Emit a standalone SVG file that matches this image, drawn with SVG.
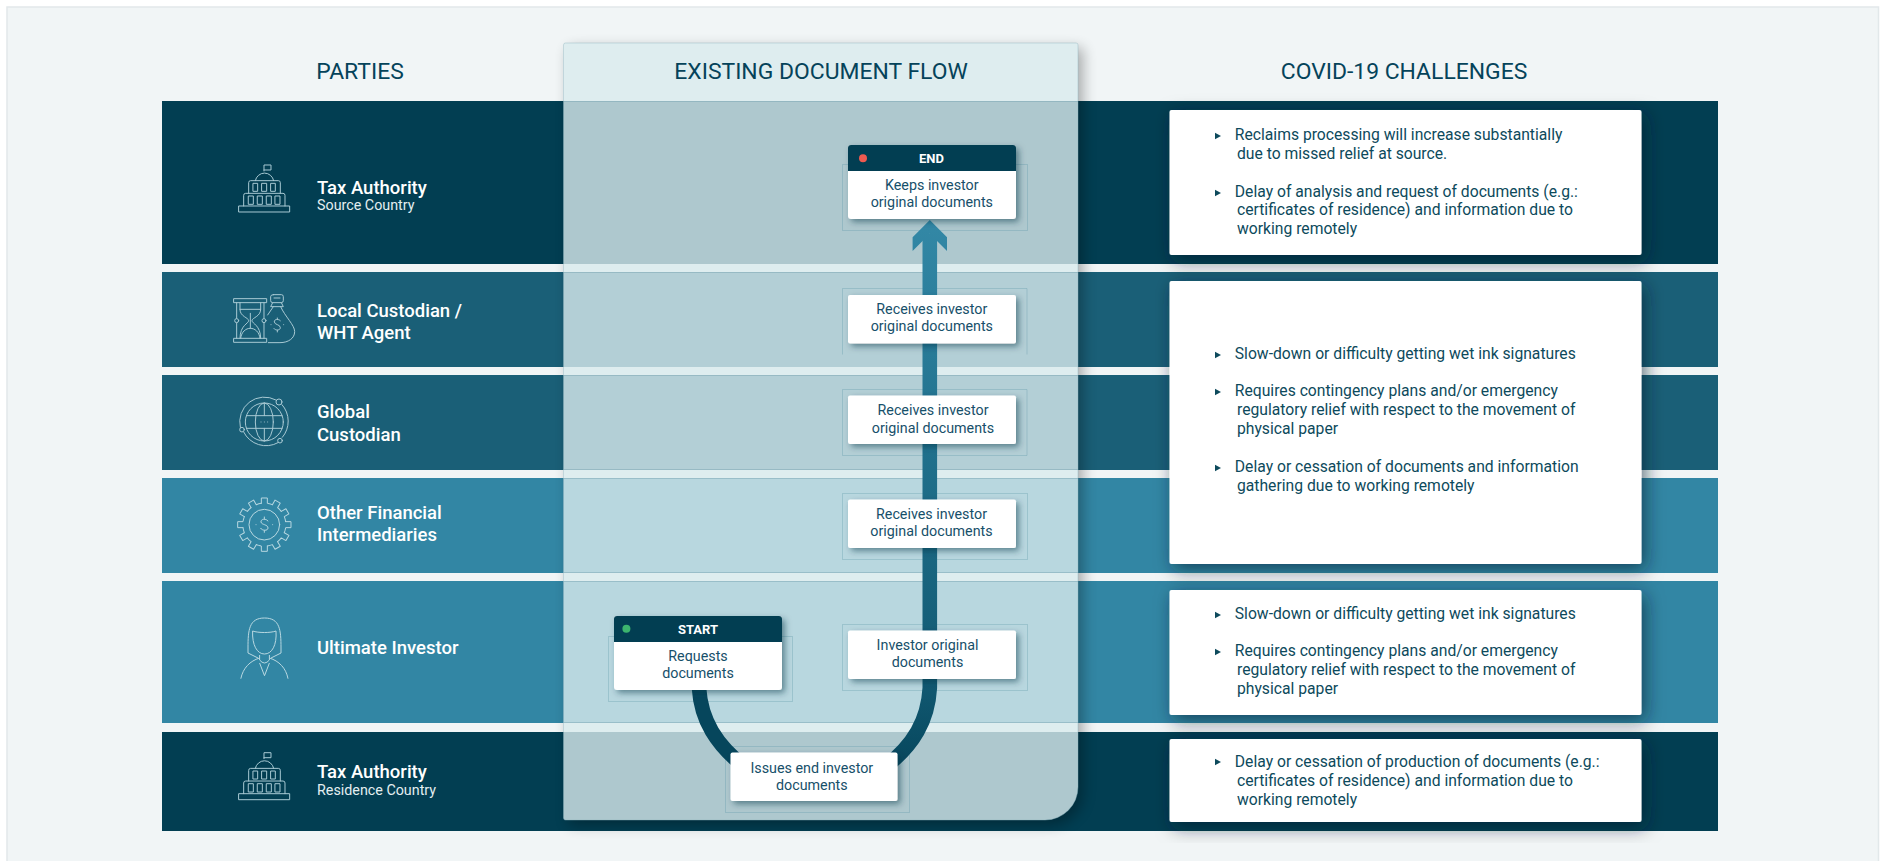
<svg xmlns="http://www.w3.org/2000/svg" xmlns:xlink="http://www.w3.org/1999/xlink" width="1883" height="861" viewBox="0 0 1883 861">
<style>
text{font-family:Roboto,"Liberation Sans",sans-serif}
.h{font-size:22.9px;fill:#05435a;text-anchor:middle}
.t{font-size:18.5px;font-weight:500;fill:#fff}
.s{font-size:14.3px;fill:#e4eef1}
.c{font-size:14.3px;fill:#17506a;text-anchor:middle}
.hd{font-size:13px;font-weight:700;fill:#fff;text-anchor:middle}
.b{font-size:15.7px;fill:#0d4a5c}
.card{fill:#fff;filter:url(#cs)}
.big{fill:#fff;filter:url(#bs)}
.out{fill:none;stroke:#5d98a8;stroke-opacity:.32;stroke-width:1}
.ic{fill:none;stroke:#a9cad4;stroke-width:3;stroke-linejoin:round;stroke-linecap:round}
.sep{stroke:#7fa9b6;stroke-opacity:.55;stroke-width:1}
</style>
<defs>
<filter id="cs" x="-10%" y="-15%" width="125%" height="140%"><feDropShadow dx="3" dy="3" stdDeviation="3" flood-color="#02303f" flood-opacity=".5"/></filter>
<filter id="bs" x="-10%" y="-15%" width="125%" height="140%"><feDropShadow dx="4" dy="5" stdDeviation="9" flood-color="#01222e" flood-opacity=".6"/></filter>
<filter id="ps" x="-10%" y="-10%" width="125%" height="125%"><feGaussianBlur stdDeviation="7" result="b"/><feOffset dx="5" dy="5" in="b" result="o"/><feComposite in="o" in2="SourceAlpha" operator="out"/></filter>
<linearGradient id="ar" gradientUnits="userSpaceOnUse" x1="0" y1="220" x2="0" y2="770"><stop offset="0" stop-color="#3388a6"/><stop offset=".42" stop-color="#20708c"/><stop offset=".83" stop-color="#125a73"/><stop offset="1" stop-color="#06465c"/></linearGradient>
<symbol id="bld" overflow="visible" viewBox="0 0 100 100" width="100" height="100">
<g class="ic" transform="scale(.3333)"><path d="M132 63V45h21v15h-21M106 92a28 28 0 0 1 55 0M86 130V98q0-6 6-6h83q6 0 6 6v32M71 168v-32q0-6 6-6h112q6 0 6 6v32"/><rect x="57" y="168" width="152" height="18"/><rect x="100" y="100" width="13" height="24"/><rect x="126" y="100" width="14" height="24"/><rect x="153" y="100" width="13" height="24"/><rect x="86" y="138" width="14" height="25"/><rect x="113" y="138" width="14" height="25"/><rect x="140" y="138" width="14" height="25"/><rect x="166" y="138" width="14" height="25"/></g>
</symbol>
<path id="tooth" d="M-9 -64V-80H9V-64A65 65 0 0 1 24 -60"/>
</defs>
<rect width="1883" height="861" fill="#fff"/>
<rect x="7" y="7" width="1871.500" height="860" fill="#f1f5f6" stroke="#e2e8ea" stroke-width="1.500"/>

<g id="party-tax-source">
<rect x="162" y="101" width="1556" height="163" fill="#023e52"/>
<use xlink:href="#bld" href="#bld" x="220" y="150"/>
<text class="t" x="317" y="194">Tax Authority</text><text class="s" x="317" y="210">Source Country</text>
</g>
<g id="party-local-custodian">
<rect x="162" y="272" width="1556" height="95" fill="#1a5f77"/>
<g class="ic" transform="translate(220 150) scale(.3333)"><rect x="42" y="446" width="98" height="12"/><rect x="42" y="565" width="98" height="12"/><path d="M50 458V505M50 519V565M132 458V505M132 519V565M60 458V478C60 500 86 503 86 512C86 521 60 525 60 565M122 458V478C122 500 96 503 96 512C96 521 122 525 122 565M60 478H122M91 490V535M62 565C64 545 78 535 91 535C104 535 118 545 120 565"/><circle cx="50" cy="512" r="6"/><circle cx="132" cy="512" r="6"/><path d="M160 434H184Q190 434 190 440V452Q190 458 184 458H158Q152 458 152 452V440Q152 434 160 434ZM162 444H180M158 458L152 470H190L184 458M160 470L143 495M182 470C195 500 224 525 224 545C224 565 205 578 180 578H145M181 512C176 506 162 507 163 516C164 525 181 523 181 533C181 542 166 542 162 536M172 504V509M172 541V546M153 524h.1M191 524h.1"/></g>
<text class="t" x="317" y="317">Local Custodian /</text><text class="t" x="317" y="339">WHT Agent</text>
</g>
<g id="party-global-custodian">
<rect x="162" y="375" width="1556" height="95" fill="#1a5f77"/>
<g class="ic" transform="translate(220 380) scale(.3333)"><circle cx="133" cy="126" r="57"/><ellipse cx="133" cy="126" rx="27" ry="57"/><path d="M133 69V107M133 145V183M80 107H186M80 145H186M168 60A74 74 0 0 0 61 142M71 156A74 74 0 0 0 174 188M187 172A74 74 0 0 0 186 74M123 126h.1M133 126h.1M143 126h.1"/><circle cx="177" cy="66" r="9"/><circle cx="66" cy="149" r="7"/><circle cx="180" cy="182" r="7"/></g>
<text class="t" x="317" y="418">Global</text><text class="t" x="317" y="441">Custodian</text>
</g>
<g id="party-intermediaries">
<rect x="162" y="478" width="1556" height="95" fill="#3286a4"/>
<g class="ic" stroke-opacity="1" style="stroke:#b8d8e1" transform="translate(220 380) scale(.3333)"><g transform="translate(133 434)"><use href="#tooth"/><use href="#tooth" transform="rotate(30)"/><use href="#tooth" transform="rotate(60)"/><use href="#tooth" transform="rotate(90)"/><use href="#tooth" transform="rotate(120)"/><use href="#tooth" transform="rotate(150)"/><use href="#tooth" transform="rotate(180)"/><use href="#tooth" transform="rotate(210)"/><use href="#tooth" transform="rotate(240)"/><use href="#tooth" transform="rotate(270)"/><use href="#tooth" transform="rotate(300)"/><use href="#tooth" transform="rotate(330)"/></g><circle cx="133" cy="434" r="46"/><path d="M144 423C139 415 122 416 123 426C124 435 144 433 144 444C144 453 127 453 122 445M133 411V416M133 452V457M108 434h.1M158 434h.1"/></g>
<text class="t" x="317" y="519">Other Financial</text><text class="t" x="317" y="541">Intermediaries</text>
</g>
<g id="party-ultimate-investor">
<rect x="162" y="581" width="1556" height="142" fill="#3286a4"/>
<g fill="none" stroke="#b8d8e1" stroke-width="1" stroke-linejoin="round"><path d="M248 648C248 630 249 618 264.500 618C280 618 281 630 281 648L281 653L271 658M248 648V653L258 658M252.600 631C258 633 271 633 276 631C277 645 272 654 264.500 654C257 654 252 645 252.600 631ZM259.600 655V660Q264.500 666 269.400 660V655M240.800 678.700C243 668 250 661 259.600 658M288 678.700C286 668 279 661 269.400 658M259.600 663L264.500 675.700L269.400 663"/></g>
<text class="t" x="317" y="654">Ultimate Investor</text>
</g>
<g id="party-tax-residence">
<rect x="162" y="732" width="1556" height="99" fill="#023e52"/>
<use href="#bld" x="220" y="737.700"/>
<text class="t" x="317" y="778">Tax Authority</text><text class="s" x="317" y="795">Residence Country</text>
</g>
<text class="h" x="360" y="79">PARTIES</text>

<g id="flow-panel">
<path d="M565.500 43H1076a2 2 0 0 1 2 2V787a33 33 0 0 1 -33 33H565.500a2 2 0 0 1 -2 -2V45a2 2 0 0 1 2 -2Z" fill="#000" filter="url(#ps)" opacity=".3"/>
<path d="M565.500 43H1076a2 2 0 0 1 2 2V787a33 33 0 0 1 -33 33H565.500a2 2 0 0 1 -2 -2V45a2 2 0 0 1 2 -2Z" fill="#d9ebee" fill-opacity=".8" stroke="#8fb4bf" stroke-opacity=".4"/>
<path class="sep" d="M564 101.500H1078M564 272.500H1078M564 375.500H1078M564 469.500H1078M564 478.500H1078M564 572.500H1078M564 581.500H1078M564 722.500H1078"/>
<text class="h" x="821" y="79">EXISTING DOCUMENT FLOW</text>
<rect class="out" x="842.500" y="164.500" width="185" height="66"/>
<path class="out" d="M842.500 354.500V288.500H1027V354.500"/>
<path class="out" d="M842.500 455.500V389.500H1027V455.500H842.500"/>
<rect class="out" x="842.500" y="493.500" width="185" height="66"/>
<rect class="out" x="842.500" y="624.500" width="185" height="66"/>
<rect class="out" x="608.500" y="636.500" width="184" height="65"/>
<rect class="out" x="725.500" y="746.500" width="184" height="66"/>
</g>

<g id="connectors" fill="none" stroke-width="14.600">
<path d="M699 688C701 720 716 745 746 768" stroke="#06465c"/>
<path d="M884 768C914 745 928 720 929.800 688V234" stroke="url(#ar)"/>
<path d="M929.800 220L947 237.300V251L929.800 233.700L912.600 251V237.300Z" fill="url(#ar)"/>
</g>

<g id="node-keeps">
<rect class="card" x="848" y="145" width="168" height="74" rx="3"/>
<path d="M848 171V148a3 3 0 0 1 3 -3H1013a3 3 0 0 1 3 3V171Z" fill="#023e52"/>
<circle cx="863" cy="158.300" r="4" fill="#ef5a50"/>
<text class="hd" x="931.500" y="163">END</text>
<text class="c" x="931.800" y="190">Keeps investor</text><text class="c" x="931.800" y="207">original documents</text>
</g>
<g id="node-receives-local"><rect class="card" x="848" y="295" width="168" height="48.500" rx="2"/><text class="c" x="931.800" y="314">Receives investor</text><text class="c" x="931.800" y="331">original documents</text></g>
<g id="node-receives-global"><rect class="card" x="848" y="395.500" width="168" height="48.500" rx="2"/><text class="c" x="933" y="415">Receives investor</text><text class="c" x="933" y="433">original documents</text></g>
<g id="node-receives-other"><rect class="card" x="848" y="499.500" width="168" height="48.500" rx="2"/><text class="c" x="931.500" y="519">Receives investor</text><text class="c" x="931.500" y="536">original documents</text></g>
<g id="node-investor"><rect class="card" x="848" y="630.500" width="168" height="48.500" rx="2"/><text class="c" x="927.500" y="650">Investor original</text><text class="c" x="927.500" y="667">documents</text></g>
<g id="node-start">
<rect class="card" x="614" y="616" width="168" height="74" rx="3"/>
<path d="M614 642V619a3 3 0 0 1 3 -3H779a3 3 0 0 1 3 3V642Z" fill="#023e52"/>
<circle cx="626.400" cy="628.700" r="4" fill="#3cb46e"/>
<text class="hd" x="698" y="634">START</text>
<text class="c" x="698" y="661">Requests</text><text class="c" x="698" y="678">documents</text>
</g>
<g id="node-issues"><rect class="card" x="730.500" y="752.500" width="167" height="48.500" rx="2"/><text class="c" x="811.800" y="773">Issues end investor</text><text class="c" x="811.800" y="790">documents</text></g>

<text class="h" x="1404" y="79">COVID-19 CHALLENGES</text>
<defs><path id="tri" d="M0 -3.200L6 0L0 3.200Z" fill="#0d4a5c"/></defs>
<g id="challenge-1"><rect class="big" x="1169.500" y="110" width="472" height="145" rx="2"/>
<use href="#tri" x="1215" y="136"/><text class="b" x="1234.800" y="140">Reclaims processing will increase substantially</text><text class="b" x="1237" y="159">due to missed relief at source.</text>
<use href="#tri" x="1215" y="193"/><text class="b" x="1234.800" y="197">Delay of analysis and request of documents (e.g.:</text><text class="b" x="1237" y="215">certificates of residence) and information due to</text><text class="b" x="1237" y="234">working remotely</text></g>
<g id="challenge-2"><rect class="big" x="1169.500" y="281" width="472" height="283" rx="2"/>
<use href="#tri" x="1215" y="355"/><text class="b" x="1234.800" y="359">Slow-down or difficulty getting wet ink signatures</text>
<use href="#tri" x="1215" y="392"/><text class="b" x="1234.800" y="396">Requires contingency plans and/or emergency</text><text class="b" x="1237" y="415">regulatory relief with respect to the movement of</text><text class="b" x="1237" y="434">physical paper</text>
<use href="#tri" x="1215" y="468"/><text class="b" x="1234.800" y="472">Delay or cessation of documents and information</text><text class="b" x="1237" y="491">gathering due to working remotely</text></g>
<g id="challenge-3"><rect class="big" x="1169.500" y="590" width="472" height="125" rx="2"/>
<use href="#tri" x="1215" y="615"/><text class="b" x="1234.800" y="619">Slow-down or difficulty getting wet ink signatures</text>
<use href="#tri" x="1215" y="652"/><text class="b" x="1234.800" y="656">Requires contingency plans and/or emergency</text><text class="b" x="1237" y="675">regulatory relief with respect to the movement of</text><text class="b" x="1237" y="694">physical paper</text></g>
<g id="challenge-4"><rect class="big" x="1169.500" y="739" width="472" height="83" rx="2"/>
<use href="#tri" x="1215" y="762"/><text class="b" x="1234.800" y="767">Delay or cessation of production of documents (e.g.:</text><text class="b" x="1237" y="786">certificates of residence) and information due to</text><text class="b" x="1237" y="805">working remotely</text></g>
</svg>
